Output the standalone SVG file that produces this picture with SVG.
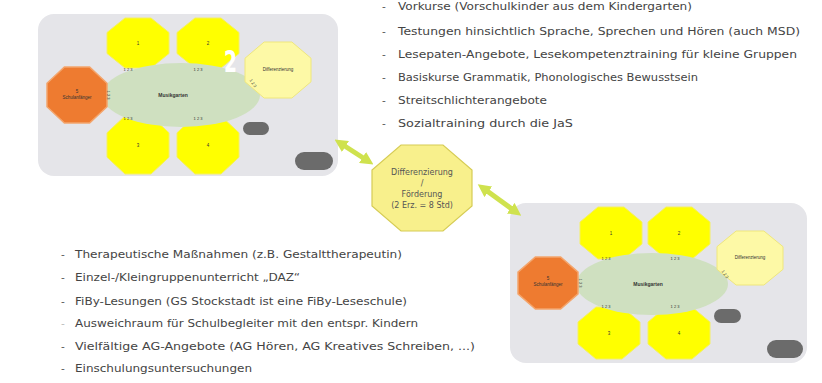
<svg xmlns="http://www.w3.org/2000/svg" xmlns:xlink="http://www.w3.org/1999/xlink" width="822" height="383" viewBox="0 0 822 383">
<style>
.panel{fill:#e5e5e9}
.yel{fill:#ffff00;stroke:#f5f060;stroke-width:1}
.org{fill:#ee7b30;stroke:#f4a56c;stroke-width:1.5}
.lyel{fill:#fdf9a6;stroke:#efe77c;stroke-width:1}
.cen{fill:#f8f08c;stroke:#d6cc55;stroke-width:1.2}
.grn{fill:#cfe0c0}
.pill{fill:#6b6b6b}
.t{font-family:"DejaVu Sans","Liberation Sans",sans-serif;font-size:10.5px;fill:#444444}
.d{font-family:"DejaVu Sans","Liberation Sans",sans-serif;font-size:10.5px;fill:#555}
.n{font-family:"Liberation Sans",sans-serif;font-size:4.5px;fill:#333;text-anchor:middle}
.nb{font-family:"Liberation Sans",sans-serif;font-size:5px;font-weight:bold;fill:#333;text-anchor:middle}
.lbl{font-family:"Liberation Sans",sans-serif;font-size:4px;fill:#333;text-anchor:middle}
.ct{font-family:"DejaVu Sans","Liberation Sans",sans-serif;font-size:8px;fill:#555;text-anchor:middle}
.arr{stroke:#cfe24e;stroke-width:5;fill:none;marker-start:url(#ah);marker-end:url(#ah)}
</style>
<defs>
<polygon id="oct" points="-0.21,-0.5 0.21,-0.5 0.5,-0.21 0.5,0.21 0.21,0.5 -0.21,0.5 -0.5,0.21 -0.5,-0.21" vector-effect="non-scaling-stroke"/>
<marker id="ah" viewBox="0 0 10 10" refX="5" refY="5" markerWidth="2.6" markerHeight="2.6" orient="auto-start-reverse">
<path d="M0,0 L10,5 L0,10 Z" fill="#cfe24e"/>
</marker>
</defs>
<rect width="822" height="383" fill="#ffffff"/>

<!-- top-left panel -->
<g id="panel-top">
<rect class="panel" x="38" y="14" width="300" height="162" rx="16"/>
<g id="tl-oct1"><use xlink:href="#oct" class="yel" transform="translate(138,43) scale(62,50)"/><text class="n" x="138" y="45">1</text></g>
<g id="tl-oct2"><use xlink:href="#oct" class="yel" transform="translate(208,43) scale(62,50)"/><text class="n" x="208" y="45">2</text></g>
<g id="tl-oct3"><use xlink:href="#oct" class="yel" transform="translate(138,145) scale(62,58)"/><text class="n" x="138" y="147">3</text></g>
<g id="tl-oct4"><use xlink:href="#oct" class="yel" transform="translate(208,145) scale(62,58)"/><text class="n" x="208" y="147">4</text></g>
<g id="tl-center"><ellipse class="grn" cx="181" cy="95" rx="79" ry="32"/><text class="nb" x="173" y="97">Musikgarten</text></g>
<g id="tl-orange"><use xlink:href="#oct" class="org" transform="translate(77,95) scale(60,56)"/><text class="n" x="77" y="93">5</text><text class="n" x="77" y="99">Schulanfänger</text></g>
<g id="tl-diff"><use xlink:href="#oct" class="lyel" transform="translate(278,70) scale(66,56)"/><text class="n" x="278" y="71">Differenzierung</text></g>
<g id="tl-pill1"><rect class="pill" x="243" y="122" width="26" height="13" rx="6.5"/></g>
<g id="tl-pill2"><rect class="pill" x="295" y="152" width="38" height="18" rx="9"/></g>
</g>

<!-- bottom-right panel -->
<g id="panel-bottom">
<rect class="panel" x="510" y="203" width="297" height="160" rx="16"/>
<g id="br-oct1"><use xlink:href="#oct" class="yel" transform="translate(611,233) scale(62,52)"/><text class="n" x="611" y="235">1</text></g>
<g id="br-oct2"><use xlink:href="#oct" class="yel" transform="translate(679,233) scale(62,52)"/><text class="n" x="679" y="235">2</text></g>
<g id="br-oct3"><use xlink:href="#oct" class="yel" transform="translate(609,333) scale(62,52)"/><text class="n" x="609" y="335">3</text></g>
<g id="br-oct4"><use xlink:href="#oct" class="yel" transform="translate(679,333) scale(62,52)"/><text class="n" x="679" y="335">4</text></g>
<g id="br-center"><ellipse class="grn" cx="652" cy="284" rx="76" ry="31"/><text class="nb" x="648" y="286">Musikgarten</text></g>
<g id="br-orange"><use xlink:href="#oct" class="org" transform="translate(548,283) scale(60,52)"/><text class="n" x="548" y="280">5</text><text class="n" x="548" y="286">Schulanfänger</text></g>
<g id="br-diff"><use xlink:href="#oct" class="lyel" transform="translate(750,258) scale(66,54)"/><text class="n" x="750" y="259">Differenzierung</text></g>
<g id="br-pill1"><rect class="pill" x="714" y="309" width="27" height="14" rx="7"/></g>
<g id="br-pill2"><rect class="pill" x="767" y="340" width="36" height="18" rx="9"/></g>
</g>

<!-- center node -->
<g id="center-node">
<use xlink:href="#oct" class="cen" transform="translate(422,188) scale(100,86)"/>
<text class="ct" x="422" y="175">Differenzierung</text>
<text class="ct" x="422" y="186">/</text>
<text class="ct" x="422" y="197">Förderung</text>
<text class="ct" x="422" y="208">(2 Erz. = 8 Std)</text>
</g>

<!-- connectors -->
<g id="connectors">
<line class="arr" x1="340" y1="143" x2="368" y2="161"/>
<line class="arr" x1="483" y1="188" x2="516" y2="212"/>
<g id="edge-labels">
<text class="lbl" x="128" y="71">1 2 3</text>
<text class="lbl" x="198" y="71">1 2 3</text>
<text class="lbl" x="128" y="120">1 2 3</text>
<text class="lbl" x="198" y="120">1 2 3</text>
<text class="lbl" transform="translate(107,95) rotate(90)">1 2 3</text>
<text class="lbl" transform="translate(252,84) rotate(55)">1 2 3</text>
<text class="lbl" x="606" y="260">1 2 3</text>
<text class="lbl" x="675" y="260">1 2 3</text>
<text class="lbl" x="606" y="308">1 2 3</text>
<text class="lbl" x="675" y="308">1 2 3</text>
<text class="lbl" transform="translate(579,283) rotate(90)">1 2 3</text>
<text class="lbl" transform="translate(724,275) rotate(55)">1 2 3</text>
</g>
</g>

<!-- top list -->
<g id="list-top">
<text class="d" x="382" y="10">-</text><text class="t" x="398" y="10" textLength="294" lengthAdjust="spacingAndGlyphs">Vorkurse (Vorschulkinder aus dem Kindergarten)</text>
<text class="d" x="382" y="35">-</text><text class="t" x="398" y="35" textLength="402" lengthAdjust="spacingAndGlyphs">Testungen hinsichtlich Sprache, Sprechen und Hören (auch MSD)</text>
<text class="d" x="382" y="58">-</text><text class="t" x="398" y="58" textLength="399" lengthAdjust="spacingAndGlyphs">Lesepaten-Angebote, Lesekompetenztraining für kleine Gruppen</text>
<text class="d" x="382" y="81">-</text><text class="t" x="398" y="81" textLength="300" lengthAdjust="spacingAndGlyphs">Basiskurse Grammatik, Phonologisches Bewusstsein</text>
<text class="d" x="382" y="104">-</text><text class="t" x="398" y="104" textLength="149" lengthAdjust="spacingAndGlyphs">Streitschlichterangebote</text>
<text class="d" x="382" y="127">-</text><text class="t" x="398" y="127" textLength="175" lengthAdjust="spacingAndGlyphs">Sozialtraining durch die JaS</text>
</g>

<!-- bottom list -->
<g id="list-bottom">
<text class="d" x="61" y="258">-</text><text class="t" x="75" y="258" textLength="327" lengthAdjust="spacingAndGlyphs">Therapeutische Maßnahmen (z.B. Gestalttherapeutin)</text>
<text class="d" x="61" y="281">-</text><text class="t" x="75" y="281" textLength="225" lengthAdjust="spacingAndGlyphs">Einzel-/Kleingruppenunterricht „DAZ“</text>
<text class="d" x="61" y="305">-</text><text class="t" x="75" y="305" textLength="332" lengthAdjust="spacingAndGlyphs">FiBy-Lesungen (GS Stockstadt ist eine FiBy-Leseschule)</text>
<text class="d" x="61" y="327" style="fill:#bbbbbb">-</text><text class="t" x="75" y="327" textLength="343" lengthAdjust="spacingAndGlyphs">Ausweichraum für Schulbegleiter mit den entspr. Kindern</text>
<text class="d" x="61" y="350">-</text><text class="t" x="75" y="350" textLength="400" lengthAdjust="spacingAndGlyphs">Vielfältige AG-Angebote (AG Hören, AG Kreatives Schreiben, ...)</text>
<text class="d" x="61" y="372">-</text><text class="t" x="75" y="372" textLength="177" lengthAdjust="spacingAndGlyphs">Einschulungsuntersuchungen</text>
</g>

<text x="0" y="0" transform="translate(224,72) scale(0.62,1)" font-family="DejaVu Sans, sans-serif" font-weight="bold" font-size="30" fill="#ffffff">2</text>
</svg>
